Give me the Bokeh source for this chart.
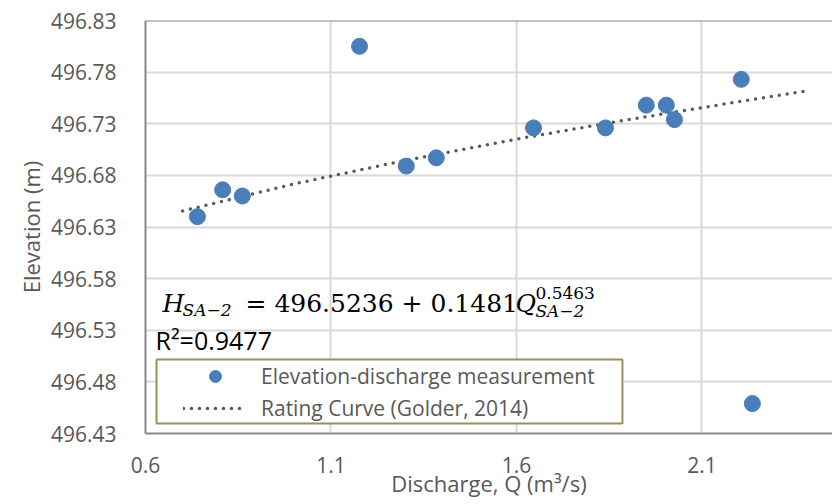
from bokeh.plotting import figure
from bokeh.models import (Range1d, FixedTicker, PrintfTickFormatter, Label, Span,
                          BoxAnnotation, Legend, LegendItem, ColumnDataSource)
from bokeh.embed import file_html
from bokeh.resources import INLINE

Q_meas = [0.740, 0.808, 0.861, 1.177, 1.303, 1.384, 1.646, 1.840, 1.950, 2.004, 2.026, 2.206, 2.236]
H_meas = [496.640, 496.666, 496.660, 496.805, 496.689, 496.697, 496.726, 496.726, 496.748,
          496.748, 496.734, 496.773, 496.459]
# rating curve (Golder, 2014)
Q_curve = [0.70, 1.00, 1.30, 1.60, 1.90, 2.20, 2.38]
H_curve = [496.6455, 496.6717, 496.6945, 496.7151, 496.7339, 496.7514, 496.7616]

x_ticks = [0.6, 1.1, 1.6, 2.1]
y_ticks = [496.43, 496.48, 496.53, 496.58, 496.63, 496.68, 496.73, 496.78, 496.83]

X0, X1 = 0.6, 2.452
Y0, Y1 = 496.43, 496.83

# pixel -> data helpers for annotation placement (reference frame geometry)
def qx(px):
    return X0 + (px - 145) / 371.0

def hy(py):
    return Y1 - (py - 20) * (Y1 - Y0) / 413.0

GREY = "#595959"
SANS = "Open Sans"
SERIF = "DejaVu Serif"

p = figure(width=832, height=504, x_range=Range1d(X0, X1), y_range=Range1d(Y0, Y1),
           output_backend="svg", toolbar_location=None,
           min_border_left=145, min_border_right=0, min_border_top=20, min_border_bottom=71)
p.outline_line_color = None
p.background_fill_color = "white"

for ax in (p.xaxis[0], p.yaxis[0]):
    ax.axis_line_color = "#878787"
    ax.axis_line_width = 2
    ax.major_tick_line_color = None
    ax.minor_tick_line_color = None
    ax.major_label_text_font = SANS
    ax.major_label_text_font_size = "21px"
    ax.major_label_text_color = GREY
    ax.axis_label_text_font = SANS
    ax.axis_label_text_font_size = "22px"
    ax.axis_label_text_color = GREY
    ax.axis_label_text_font_style = "normal"

p.xaxis.ticker = FixedTicker(ticks=x_ticks)
p.yaxis.ticker = FixedTicker(ticks=y_ticks)
p.xaxis.formatter = PrintfTickFormatter(format="%.1f")
p.yaxis.formatter = PrintfTickFormatter(format="%.2f")
p.xaxis.axis_label = "Discharge, Q (m³/s)"
p.yaxis.axis_label = "Elevation (m)"
p.xaxis.major_label_standoff = 17
p.yaxis.major_label_standoff = 23
p.xaxis.axis_label_standoff = -8
p.yaxis.axis_label_standoff = 2

p.xgrid.grid_line_color = "#d9d9d9"
p.ygrid.grid_line_color = "#d9d9d9"
p.xgrid.grid_line_width = 2
p.ygrid.grid_line_width = 2

p.add_layout(Span(location=Y1, dimension="width", line_color="#878787", line_width=2))

src_m = ColumnDataSource(data=dict(q=Q_meas, h=H_meas))
src_c = ColumnDataSource(data=dict(q=Q_curve, h=H_curve))

curve = p.line("q", "h", source=src_c, line_color=GREY, line_width=3.5,
               line_dash="0 8", line_cap="round")
pts = p.scatter("q", "h", source=src_m, size=16, fill_color="#4a7ebb",
                line_color="#4a7ebb")

# equation text
eq = [
    ("H", 162, 303, "25px", "italic"),
    ("SA−2", 182, 309, "17px", "italic"),
    ("= 496.5236 + 0.1481", 245, 303, "25px", "normal"),
    ("Q", 515, 303, "25px", "italic"),
    ("0.5463", 535, 292, "17px", "normal"),
    ("SA−2", 535, 310, "17px", "italic"),
]
for t, px, py, fs, st in eq:
    p.add_layout(Label(x=qx(px), y=hy(py), text=t, text_font=SERIF, text_font_size=fs,
                       text_font_style=st, text_color="black", text_baseline="alphabetic"))

p.add_layout(Label(x=qx(155), y=hy(339), text="R²=0.9477", text_font=SANS,
                   text_font_size="25px", text_color="black", text_baseline="alphabetic"))

# legend frame
p.add_layout(BoxAnnotation(left=qx(156), right=qx(622), top=hy(359), bottom=hy(423),
                           fill_color="white", fill_alpha=1.0,
                           line_color="#9c8f55", line_alpha=1.0, line_width=2))

legend = Legend(items=[LegendItem(label="Elevation-discharge measurement", renderers=[pts]),
                       LegendItem(label="Rating Curve (Golder, 2014)", renderers=[curve])],
                location=(38, 10), glyph_width=64, glyph_height=30, label_height=30,
                spacing=2, padding=4, margin=0, label_standoff=14,
                label_text_font=SANS, label_text_font_size="21px", label_text_color=GREY,
                border_line_color=None, background_fill_alpha=0)
p.add_layout(legend)

open("out.html", "w").write(file_html(p, INLINE))
